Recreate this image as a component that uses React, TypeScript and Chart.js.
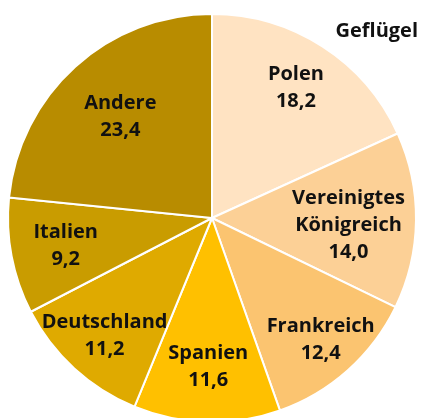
import React, { useEffect, useRef } from "react";
import { Chart, registerables } from "chart.js";

Chart.register(...registerables);

const categories = ["Polen", "Vereinigtes Königreich", "Frankreich", "Spanien", "Deutschland", "Italien", "Andere"];
const labelLines = [["Polen"], ["Vereinigtes", "Königreich"], ["Frankreich"], ["Spanien"], ["Deutschland"], ["Italien"], ["Andere"]];
const values = [18.2, 14.0, 12.4, 11.6, 11.2, 9.2, 23.4];
const valueLabels = ["18,2", "14,0", "12,4", "11,6", "11,2", "9,2", "23,4"];
const title = "Geflügel";

const colors = ["#FFE3C2", "#FCD096", "#FBC470", "#FFC000", "#DFAA00", "#C99C00", "#B88C00"];
const labelRadius = [0.76, 0.67, 0.8, 0.73, 0.78, 0.73, 0.67];
const labelAngleShiftDeg = [0, 2.2, 0, 0, 0, 0, 0];

const FONT = "'Open Sans', sans-serif";

const labelPlugin = {
  id: "sliceLabels",
  afterDatasetsDraw(chart: any) {
    const ctx = chart.ctx;
    const meta = chart.getDatasetMeta(0);
    ctx.save();
    ctx.fillStyle = "#111111";
    ctx.textAlign = "center";
    ctx.textBaseline = "middle";
    ctx.font = `bold 20px ${FONT}`;
    meta.data.forEach((arc: any, i: number) => {
      const { x, y, startAngle, endAngle, outerRadius } = arc.getProps(["x", "y", "startAngle", "endAngle", "outerRadius"], true);
      const mid = (startAngle + endAngle) / 2 + (labelAngleShiftDeg[i] * Math.PI) / 180;
      const r = outerRadius * labelRadius[i];
      const cx = x + Math.cos(mid) * r;
      const cy = y + Math.sin(mid) * r;
      const lines = [...labelLines[i], valueLabels[i]];
      const lh = 27;
      const top = cy - ((lines.length - 1) * lh) / 2;
      lines.forEach((t, k) => ctx.fillText(t, cx, top + k * lh));
    });
    ctx.font = `bold 20px ${FONT}`;
    ctx.textAlign = "right";
    ctx.fillText(title, 418, 31);
    ctx.restore();
  },
};

export default function App() {
  const ref = useRef<HTMLCanvasElement>(null);
  useEffect(() => {
    document.body.style.margin = "0";
    const chart = new Chart(ref.current!, {
      type: "pie",
      data: {
        labels: categories,
        datasets: [
          {
            data: values,
            backgroundColor: colors,
            borderColor: "#ffffff",
            borderWidth: 2,
          },
        ],
      },
      options: {
        responsive: false,
        animation: false,
        layout: { padding: { left: 7, right: 4, top: 13, bottom: 13 } },
        plugins: { legend: { display: false }, tooltip: { enabled: false } },
      },
      plugins: [labelPlugin],
    });
    return () => chart.destroy();
  }, []);
  return (
    <div style={{ position: "fixed", left: 0, top: 0, width: 421, height: 418, overflow: "hidden", background: "#fff" }}>
      <canvas ref={ref} width={421} height={436} style={{ width: 421, height: 436, display: "block" }} />
    </div>
  );
}
